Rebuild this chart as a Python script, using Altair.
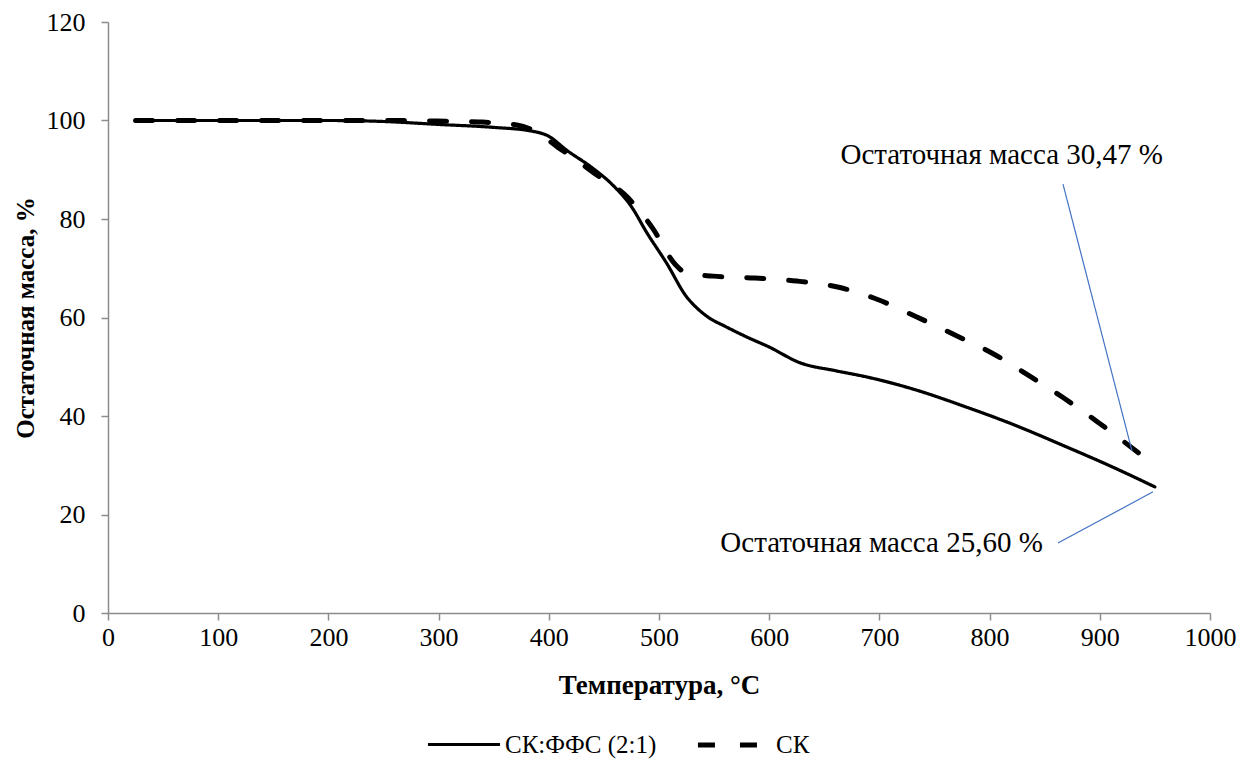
import altair as alt
import pandas as pd

# Series 1: СК:ФФС (2:1)
t1 = [25, 100, 200, 250, 300, 350, 383, 400, 416, 440, 458, 475, 489, 507, 525, 535, 545, 560, 580, 600, 628, 660, 689, 730, 779, 820, 870, 910, 950]
m1 = [100, 100, 100, 99.8, 99.2, 98.6, 97.9, 96.8, 94.0, 90.3, 86.9, 82.5, 77.2, 71.0, 64.2, 61.8, 60.0, 58.2, 56.0, 54.0, 50.8, 49.2, 47.9, 45.5, 41.8, 38.4, 33.7, 29.8, 25.6]

# Series 2: СК
t2 = [25, 100, 200, 250, 298, 337, 371, 390, 408, 425, 440, 471, 494, 515, 525, 549, 587, 625, 662, 699, 734, 769, 802, 835, 867, 898, 938]
m2 = [100, 100, 100, 100, 99.9, 99.7, 99.1, 97.5, 94.6, 92.0, 89.5, 84.5, 78.2, 70.7, 69.0, 68.4, 68.0, 67.4, 66.2, 63.6, 60.1, 56.4, 52.8, 48.3, 43.7, 38.8, 32.0]

series_names = ["СК:ФФС (2:1)", "СК"]

# Annotations
ann_text = ["Остаточная масса 30,47 %", "Остаточная масса 25,60 %"]
ann_tx = [811, 702]
ann_ty = [93, 14.2]
lead_x1 = [866.6, 862]
lead_y1 = [87.1, 14.2]
lead_x2 = [929.2, 948.3]
lead_y2 = [32.9, 24.6]

df = pd.concat([
    pd.DataFrame({"T": t1, "m": m1, "s": series_names[0], "o": range(len(t1))}),
    pd.DataFrame({"T": t2, "m": m2, "s": series_names[1], "o": range(len(t2))}),
])
ann = pd.DataFrame({"text": ann_text, "x": ann_tx, "y": ann_ty})
leads = pd.DataFrame({"x1": lead_x1, "y1": lead_y1, "x2": lead_x2, "y2": lead_y2})

FONT = "Liberation Serif"
xscale = alt.Scale(domain=[0, 1000], nice=False, zero=False)
yscale = alt.Scale(domain=[0, 120], nice=False)

lines = alt.Chart(df).mark_line(interpolate="monotone", strokeCap="round").encode(
    x=alt.X("T:Q", scale=xscale, title="Температура, °C",
            axis=alt.Axis(values=list(range(0, 1001, 100)), format="d", grid=False, labelFlush=False)),
    y=alt.Y("m:Q", scale=yscale, title="Остаточная масса, %",
            axis=alt.Axis(values=list(range(0, 121, 20)), format="d", grid=False, labelFlush=False)),
    order="o:Q",
    strokeDash=alt.StrokeDash("s:N", scale=alt.Scale(domain=series_names, range=[[1, 0], [17, 25]]),
                              legend=alt.Legend(title=None, orient="none", direction="horizontal",
                                                legendX=318, legendY=684)),
    strokeWidth=alt.StrokeWidth("s:N", scale=alt.Scale(domain=series_names, range=[3.2, 5]), legend=None),
    color=alt.value("black"),
)

texts = alt.Chart(ann).mark_text(font=FONT, fontSize=29, color="black").encode(
    x=alt.X("x:Q", scale=xscale), y=alt.Y("y:Q", scale=yscale), text="text:N"
)

rules = alt.Chart(leads).mark_rule(color="#4472C4", strokeWidth=1.2).encode(
    x=alt.X("x1:Q", scale=xscale), y=alt.Y("y1:Q", scale=yscale),
    x2="x2:Q", y2="y2:Q"
)

chart = alt.layer(lines, rules, texts).properties(
    width=1102, height=591, autosize="none",
    padding={"left": 100, "top": 14, "right": 36, "bottom": 146},
).configure_view(stroke=None).configure_axis(
    domainColor="#8c8c8c", domainWidth=1.5, tickColor="#8c8c8c", tickWidth=1.5, tickSize=7,
    labelFont=FONT, labelFontSize=26, labelColor="black", labelPadding=4,
    titleFont=FONT, titleFontSize=27, titleFontWeight="bold", titleColor="black",
).configure_axisY(labelPadding=16, titlePadding=8, titleFontSize=25).configure_axisX(titlePadding=22).configure_legend(
    labelFont=FONT, labelFontSize=25, labelColor="black", symbolType="stroke",
    symbolSize=5200, symbolStrokeColor="black", symbolStrokeWidth=4, columnPadding=30, labelOffset=3,
)

chart.save("out.html", embed_options={"renderer": "svg", "actions": False})
